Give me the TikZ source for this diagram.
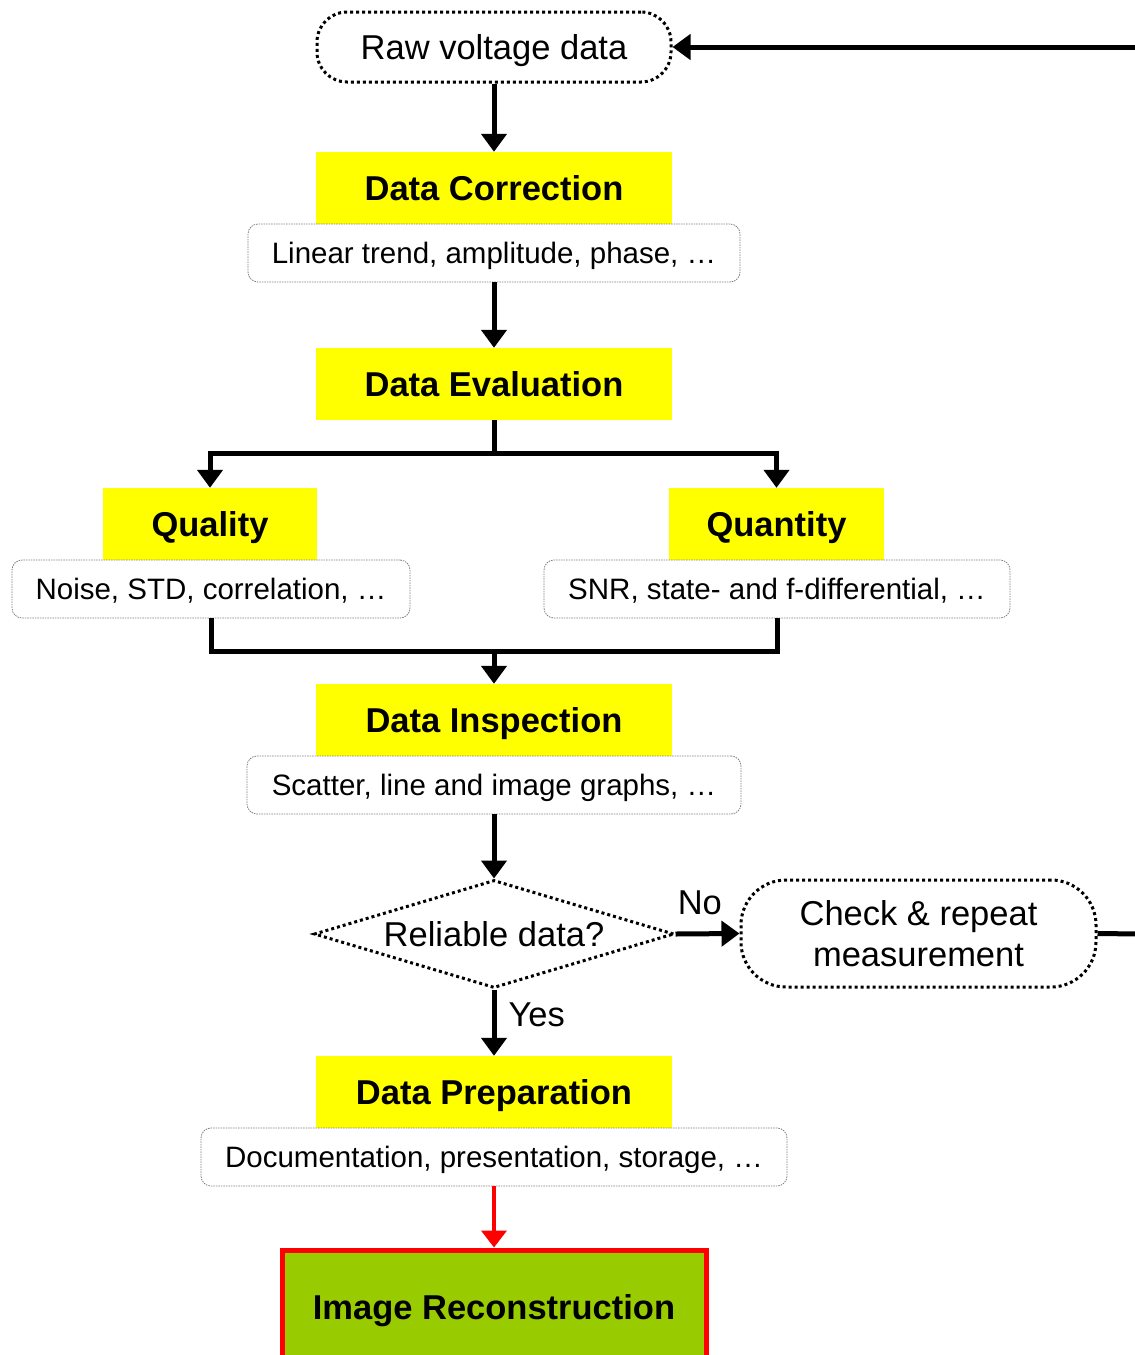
\documentclass[tikz,border=0pt]{standalone}
\usepackage{fontspec}
\setmainfont{Liberation Sans}
\usetikzlibrary{arrows.meta,shapes.geometric}
\definecolor{ybox}{HTML}{FFFF00}
\definecolor{gbox}{HTML}{99CC00}
\definecolor{rline}{HTML}{FF0000}
\begin{document}
\begin{tikzpicture}[x=1pt,y=-1pt,
  bigfont/.style={font=\fontsize{34.5}{41}\selectfont},
  smallfont/.style={font=\fontsize{29.5}{34}\selectfont},
  yellowbox/.style={fill=ybox, minimum width=356pt, minimum height=72pt, inner sep=0pt, text depth=0pt, font=\fontsize{34.5}{41}\selectfont\bfseries},
  subbox/.style={draw=gray, line width=0.8pt, dash pattern=on 1.5pt off 1pt, fill=white, rounded corners=10pt, minimum height=58pt, inner sep=0pt, text depth=0pt, smallfont},
  termbox/.style={draw=black, line width=3pt, dash pattern=on 3pt off 3pt, fill=white, inner sep=0pt, bigfont},
  decision/.style={draw=black, line width=3pt, dash pattern=on 3pt off 3pt, diamond, aspect=3.33, minimum width=360pt, minimum height=108pt, inner sep=0pt, text depth=0pt, bigfont},
  plainline/.style={line width=5pt},
  arr/.style={line width=5pt, -{Triangle[width=25pt,length=18pt]}},
  redarr/.style={line width=4pt, draw=rline, -{Triangle[width=25pt,length=17pt]}},
  lbl/.style={bigfont, inner sep=0pt}
]
\useasboundingbox (0,0) rectangle (1135,1355);

% nodes
\node[termbox, text depth=0pt, rounded corners=30pt, minimum width=354pt, minimum height=70pt] (raw) at (494,47) {Raw voltage data};

\node[yellowbox] (corr) at (494,188) {Data Correction};
\node[subbox, minimum width=492pt] (corrsub) at (494,253) {Linear trend, amplitude, phase, …};

\node[yellowbox] (eval) at (494,384) {Data Evaluation};

\node[yellowbox, minimum width=214pt] (qual) at (210,524) {Quality};
\node[subbox, minimum width=398pt] (qualsub) at (211,589) {Noise, STD, correlation, …};

\node[yellowbox, minimum width=215pt] (quant) at (776.5,524) {Quantity};
\node[subbox, minimum width=466pt] (quantsub) at (777,589) {SNR, state- and f-differential, …};

\node[yellowbox] (insp) at (494,720) {Data Inspection};
\node[subbox, minimum width=494pt] (inspsub) at (494,785) {Scatter, line and image graphs, …};

\node[decision] (dec) at (494,934) {Reliable data?};

\node[termbox, rounded corners=45pt, minimum width=355pt, minimum height=107pt, align=center] (check) at (918.5,933.5) {Check \& repeat\\measurement};

\node[yellowbox] (prep) at (494,1092) {Data Preparation};
\node[subbox, minimum width=586pt] (prepsub) at (494,1157) {Documentation, presentation, storage, …};

\node[draw=rline, line width=5pt, fill=gbox, minimum width=424pt, minimum height=114pt, inner sep=0pt, text depth=0pt, font=\fontsize{34.5}{41}\selectfont\bfseries] (recon) at (494,1307) {Image Reconstruction};

% helper coordinates
\coordinate (split) at (494,453);
\coordinate (merge) at (494,651);
\coordinate (topR) at (1140,47);
\coordinate (chkR) at (1140,934);

% connectors
\draw[arr] (topR) -- (raw.east);
\draw[arr] (raw.south) -- (corr.north);
\draw[arr] (corrsub.south) -- (eval.north);
\draw[plainline] (eval.south) -- (split);
\draw[arr] (split) -| (qual.north);
\draw[arr] (split) -| (quant.north);
\draw[plainline] (qualsub.south) |- (merge);
\draw[plainline] (quantsub.south) |- (merge);
\draw[arr] (merge) -- (insp.north);
\draw[arr] (inspsub.south) -- (dec.north);
\draw[arr] (dec.east) -- node[lbl, above=16pt, pos=0.38] {No} (check.west);
\draw[plainline] (check.east) -- (chkR);
\draw[arr] (dec.south) -- node[lbl, right=12pt, pos=0.38] {Yes} (prep.north);
\draw[redarr] (prepsub.south) -- (recon.north);
\end{tikzpicture}
\end{document}
